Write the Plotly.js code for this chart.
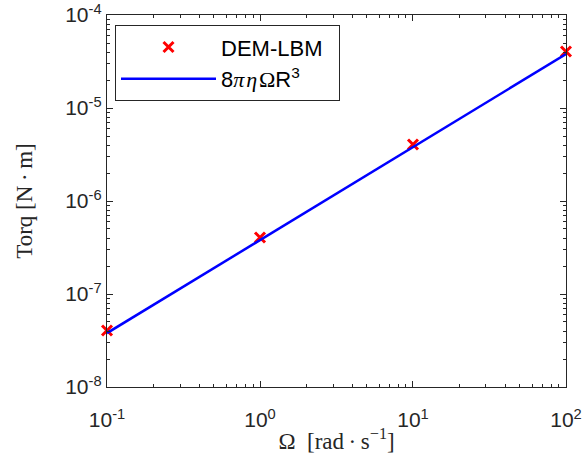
<!DOCTYPE html>
<html>
<head>
<meta charset="utf-8">
<script src="https://cdn.plot.ly/plotly-3.0.1.min.js"></script>
<style>html,body{margin:0;padding:0;background:#fff;}#chart{width:587px;height:471px;}</style>
</head>
<body>
<div id="chart"></div>
<script>
// Data
const omega = [0.1, 1, 10, 100];                       // rad/s
const torqueDEM = [4.05e-8, 4.05e-7, 4.05e-6, 4.05e-5]; // DEM-LBM, N·m
const torqueTheory = [3.8e-8, 3.8e-7, 3.8e-6, 3.8e-5];  // 8πηΩR³, N·m
const xTickVals = [0.1, 1, 10, 100];
const xTickText = ['-1', '0', '1', '2'];
const yTickVals = [1e-8, 1e-7, 1e-6, 1e-5, 1e-4];
const yTickText = ['-8', '-7', '-6', '-5', '-4'];

const axisColor = '#262626';
const serif = 'Liberation Serif, Times New Roman, serif';
const sans = 'Liberation Sans, Arial, sans-serif';

function powLabels(exps) {
  return exps.map(e => '10<sup>' + e + '</sup>');
}
function minorTicks(lo, hi) {
  const out = [];
  for (let d = lo; d < hi; d++) for (let k = 2; k <= 9; k++) out.push(k * Math.pow(10, d));
  return out;
}

const traces = [
  {
    x: omega, y: torqueDEM, type: 'scatter', mode: 'markers', name: 'DEM-LBM\u2002',
    cliponaxis: false,
    marker: {symbol: 'x-thin', size: 10, color: '#ff0000', line: {color: '#ff0000', width: 3}}
  },
  {
    x: omega, y: torqueTheory, type: 'scatter', mode: 'lines',
    name: '8<span style="font-family:' + serif + '"><i>π</i>\u200a<i>η</i>\u200aΩ</span>R<sup>3</sup>',
    line: {color: '#0000ff', width: 2.5}
  }
];

function axisCommon(minorVals) {
  return {
    type: 'log', showgrid: false, zeroline: false,
    showline: true, linecolor: axisColor, linewidth: 1.2, mirror: 'allticks',
    ticks: 'inside', ticklen: 6, tickwidth: 1, tickcolor: axisColor,
    ticklabeloverflow: 'allow',
    tickfont: {family: sans, size: 21, color: axisColor},
    minor: {tickmode: 'array', tickvals: minorVals, ticks: 'inside', ticklen: 3, tickwidth: 1, tickcolor: axisColor, showgrid: false}
  };
}

const layout = {
  width: 587, height: 471,
  margin: {l: 107, r: 21, t: 15, b: 84},
  paper_bgcolor: '#ffffff', plot_bgcolor: '#ffffff',
  showlegend: true,
  legend: {
    x: 0.017, y: 0.973, xanchor: 'left', yanchor: 'top',
    bgcolor: '#ffffff', bordercolor: axisColor, borderwidth: 1.2,
    font: {family: sans, size: 22, color: '#000000'},
    itemwidth: 95, tracegroupgap: 0
  },
  xaxis: Object.assign(axisCommon(minorTicks(-1, 2)), {
    range: [-1.0001, 2.0001], tickmode: 'array', tickvals: xTickVals, ticktext: powLabels(xTickText),
    ticklabelstandoff: 14,
    title: {text: 'Ω\u2002[rad\u2009·\u2009s<sup>−1</sup>]', font: {family: serif, size: 23, color: axisColor}, standoff: 2}
  }),
  yaxis: Object.assign(axisCommon(minorTicks(-8, -4)), {
    range: [-8.0001, -3.9999], tickmode: 'array', tickvals: yTickVals, ticktext: powLabels(yTickText),
    title: {text: 'Torq [N\u2009·\u2009m]', font: {family: serif, size: 23, color: axisColor}, standoff: 26}
  })
};

Plotly.newPlot('chart', traces, layout, {displayModeBar: false, staticPlot: true});
</script>
</body>
</html>
